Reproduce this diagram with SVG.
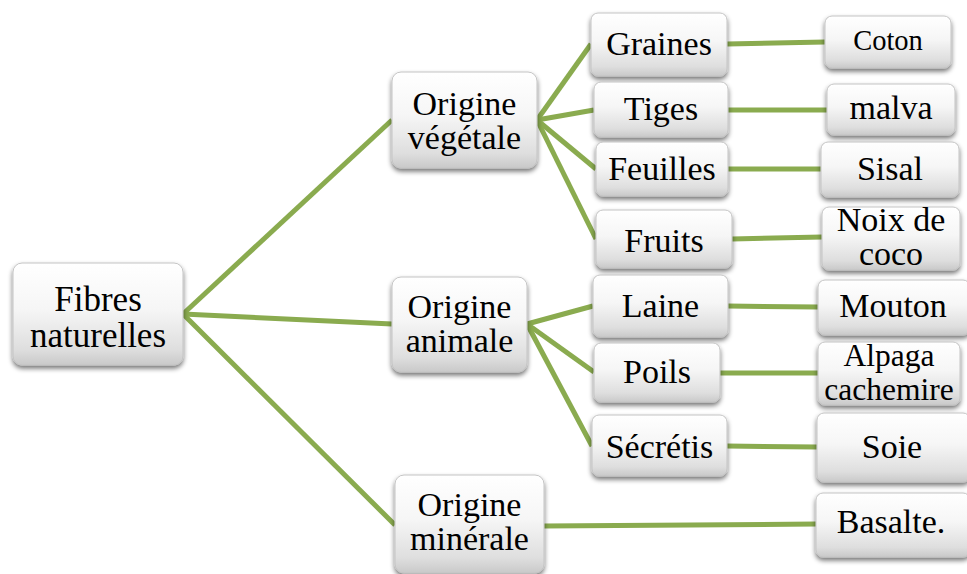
<svg xmlns="http://www.w3.org/2000/svg" width="967" height="574" viewBox="0 0 967 574">
<defs>
<linearGradient id="g" x1="0" y1="0" x2="0" y2="1">
<stop offset="0" stop-color="#ffffff"/>
<stop offset="0.45" stop-color="#f6f6f6"/>
<stop offset="0.85" stop-color="#dedede"/>
<stop offset="1" stop-color="#c9c9c9"/>
</linearGradient>
<filter id="sh" x="-20%" y="-20%" width="140%" height="150%">
<feGaussianBlur in="SourceAlpha" stdDeviation="2.5"/>
<feOffset dx="0" dy="3" result="b"/>
<feComponentTransfer><feFuncA type="linear" slope="0.55"/></feComponentTransfer>
<feMerge><feMergeNode/><feMergeNode in="SourceGraphic"/></feMerge>
</filter>
</defs>
<style>
.box{fill:url(#g);stroke:#c4c4c4;stroke-width:1;filter:url(#sh)}
text{font-family:'Liberation Serif','Times New Roman','DejaVu Serif',serif;font-size:34px;fill:#000;text-anchor:middle}
text.big{font-size:35px}
text.sm{font-size:28.5px}
text.md{font-size:31.5px}
.c line{stroke:#8aab4f;stroke-width:5;stroke-linecap:butt}
</style>
<g class="c" id="connectors">
<line x1="183" y1="314" x2="392" y2="120"/>
<line x1="183" y1="314" x2="392" y2="324"/>
<line x1="183" y1="314" x2="395" y2="525"/>
<line x1="537" y1="120" x2="591" y2="44"/>
<line x1="537" y1="120" x2="594" y2="110"/>
<line x1="537" y1="120" x2="596" y2="169"/>
<line x1="537" y1="120" x2="596" y2="239"/>
<line x1="527" y1="324" x2="593" y2="306"/>
<line x1="527" y1="324" x2="594" y2="372"/>
<line x1="527" y1="324" x2="592" y2="446"/>
<line x1="727" y1="44" x2="825" y2="42"/>
<line x1="728" y1="110" x2="827" y2="110"/>
<line x1="728" y1="169" x2="821" y2="169"/>
<line x1="732" y1="239" x2="822" y2="237"/>
<line x1="728" y1="306" x2="818" y2="307"/>
<line x1="720" y1="373" x2="818" y2="373"/>
<line x1="727" y1="446" x2="817" y2="447"/>
<line x1="544" y1="526" x2="816" y2="524"/>
</g>
<g id="fibres"><rect class="box" x="13" y="263" width="170" height="102" rx="9"/><text class="big" x="98" y="311">Fibres</text><text class="big" x="98" y="347">naturelles</text></g>
<g id="vegetale"><rect class="box" x="392" y="72" width="145" height="96" rx="9"/><text x="464.5" y="115">Origine</text><text x="464.5" y="149">végétale</text></g>
<g id="animale"><rect class="box" x="392" y="277" width="135" height="95" rx="9"/><text x="459.5" y="318">Origine</text><text x="459.5" y="352">animale</text></g>
<g id="minerale"><rect class="box" x="395" y="475" width="149" height="98" rx="9"/><text x="469.5" y="516">Origine</text><text x="469.5" y="550">minérale</text></g>
<g id="graines"><rect class="box" x="591" y="13" width="136" height="63" rx="7"/><text x="659" y="55">Graines</text></g>
<g id="tiges"><rect class="box" x="594" y="82" width="134" height="55" rx="7"/><text x="661" y="120">Tiges</text></g>
<g id="feuilles"><rect class="box" x="596" y="142" width="132" height="54" rx="7"/><text x="662" y="180">Feuilles</text></g>
<g id="fruits"><rect class="box" x="596" y="210" width="136" height="58" rx="7"/><text x="664" y="252">Fruits</text></g>
<g id="laine"><rect class="box" x="593" y="275" width="135" height="62" rx="7"/><text x="660.5" y="317">Laine</text></g>
<g id="poils"><rect class="box" x="594" y="343" width="126" height="59" rx="7"/><text x="657" y="383">Poils</text></g>
<g id="secretis"><rect class="box" x="592" y="415" width="135" height="61" rx="7"/><text x="659.5" y="458">Sécrétis</text></g>
<g id="coton"><rect class="box" x="825" y="16" width="126" height="52" rx="7"/><text class="sm" x="888" y="50">Coton</text></g>
<g id="malva"><rect class="box" x="827" y="84" width="128" height="51" rx="7"/><text x="891" y="119">malva</text></g>
<g id="sisal"><rect class="box" x="821" y="142" width="138" height="55" rx="7"/><text x="890" y="180">Sisal</text></g>
<g id="noix"><rect class="box" x="822" y="207" width="138" height="63" rx="7"/><text x="891" y="231">Noix de</text><text x="891" y="265">coco</text></g>
<g id="mouton"><rect class="box" x="818" y="280" width="152" height="55" rx="7"/><text x="893" y="317">Mouton</text></g>
<g id="alpaga"><rect class="box" x="818" y="342" width="142" height="63" rx="7"/><text class="md" x="889" y="366">Alpaga</text><text class="md" x="889" y="400">cachemire</text></g>
<g id="soie"><rect class="box" x="817" y="413" width="153" height="69" rx="7"/><text x="892" y="458">Soie</text></g>
<g id="basalte"><rect class="box" x="816" y="493" width="154" height="64" rx="7"/><text x="891" y="533">Basalte.</text></g>
</svg>
